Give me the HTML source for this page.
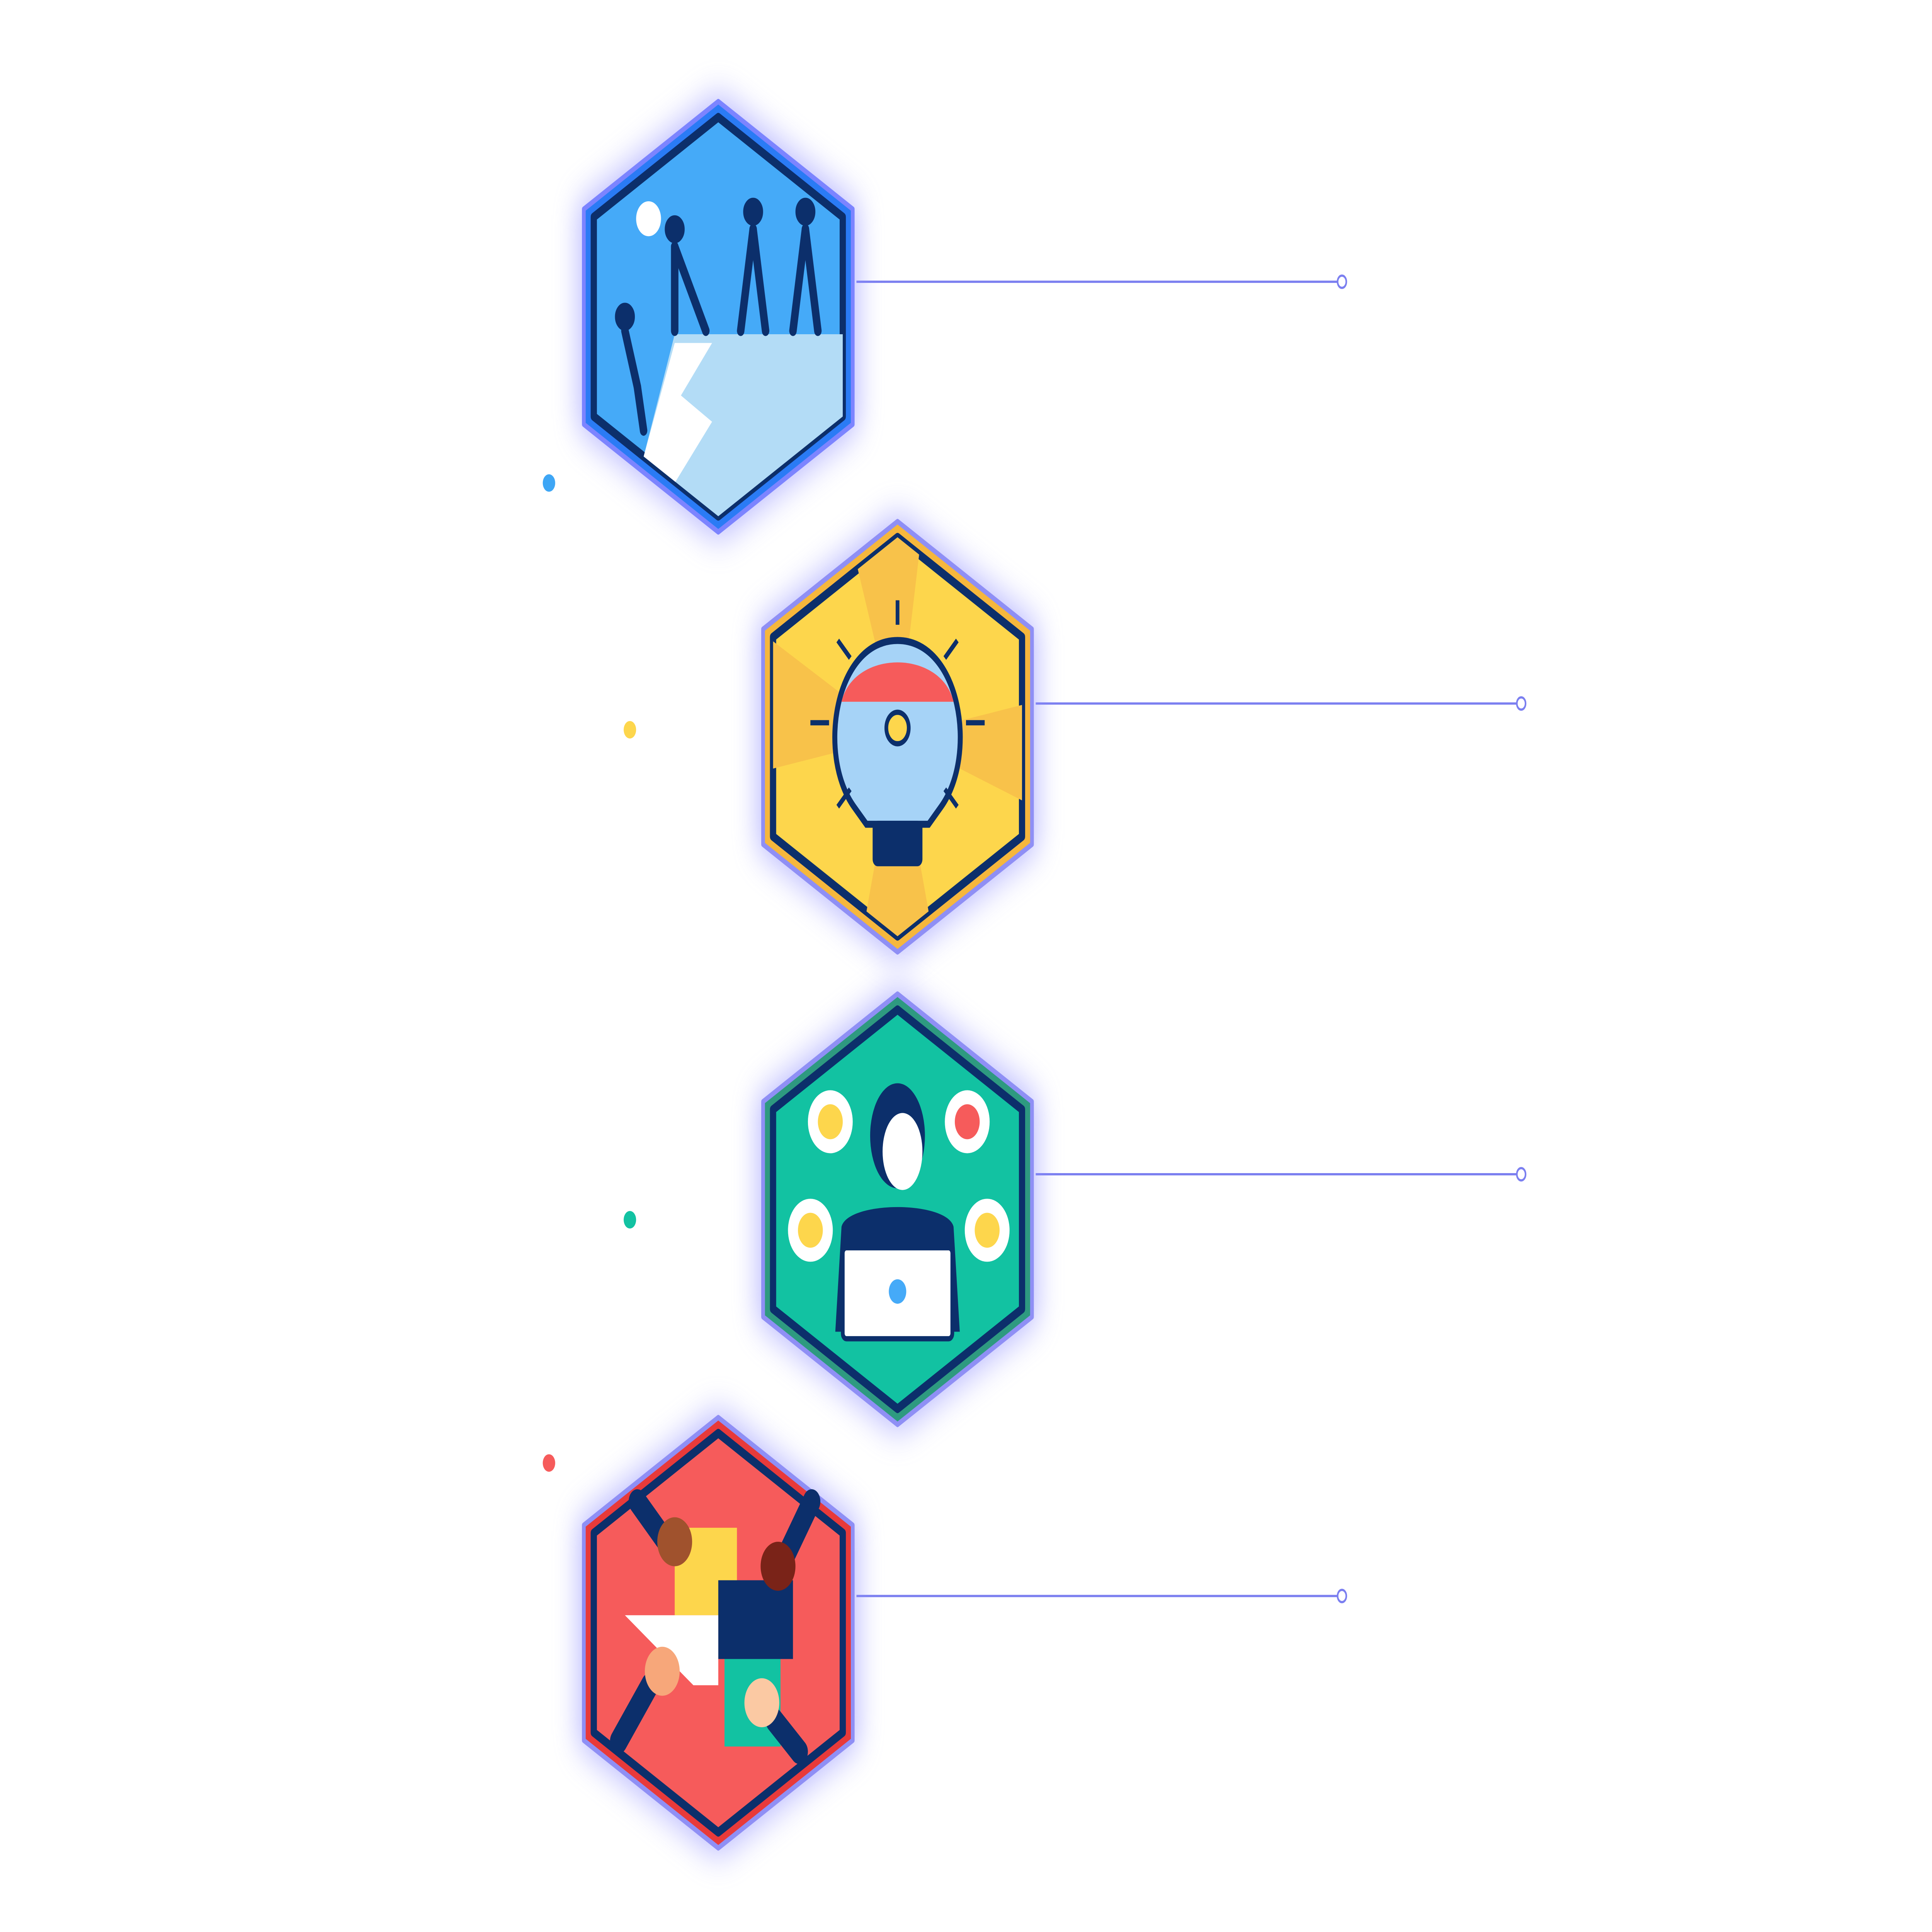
<!DOCTYPE html>
<html><head><meta charset="utf-8"><style>
html,body{margin:0;padding:0;background:#fff;width:100%;height:100%;overflow:hidden;}
svg{display:block;width:100vw;height:100vh;}
</style></head><body>
<svg viewBox="0 0 1552 1104" preserveAspectRatio="none" xmlns="http://www.w3.org/2000/svg">
<defs>
<filter id="glow" x="-40%" y="-40%" width="180%" height="180%"><feGaussianBlur stdDeviation="10"/></filter>
<clipPath id="hc"><polygon points="0,-114 100,-57 100,57 0,114 -100,57 -100,-57"/></clipPath>
</defs>
<rect width="1552" height="1104" fill="#fff"/>

<g stroke="#7b7ff0" stroke-width="1.3" fill="#fff">
<line x1="688" y1="161" x2="1075" y2="161"/><circle cx="1078" cy="161" r="3.5"/>
<line x1="832" y1="402" x2="1219" y2="402"/><circle cx="1222" cy="402" r="3.5"/>
<line x1="832" y1="671" x2="1219" y2="671"/><circle cx="1222" cy="671" r="3.5"/>
<line x1="688" y1="912" x2="1075" y2="912"/><circle cx="1078" cy="912" r="3.5"/>
</g>
<circle cx="441" cy="276" r="5" fill="#3ea6f5"/>
<circle cx="506" cy="417" r="5" fill="#fdd64c"/>
<circle cx="506" cy="697" r="5" fill="#12c2a2"/>
<circle cx="441" cy="836" r="5" fill="#f65b5b"/>

<!-- hex 1 -->
<g transform="translate(577,181)">
<polygon points="0,-128 112,-64 112,64 0,128 -112,64 -112,-64" fill="#8c8cff" opacity="0.6" filter="url(#glow)"/>
<polygon points="0,-123 108,-61.5 108,61.5 0,123 -108,61.5 -108,-61.5" fill="#2a7bf5" stroke="#7c84ff" stroke-width="3" stroke-linejoin="round"/>
<polygon points="0,-114 100,-57 100,57 0,114 -100,57 -100,-57" fill="#45aaf8" stroke="#0c2f6b" stroke-width="5" stroke-linejoin="round"/>
<g clip-path="url(#hc)">
<polygon points="-35,10 100,10 100,60 0,120 -60,80" fill="#b3dcf6"/>
<polygon points="-35,15 -5,15 -30,45 -5,60 -35,95 -60,80" fill="#fff"/>
</g>
<circle cx="-56" cy="-56" r="10" fill="#fff"/>
<g fill="#0c2f6b" stroke="#0c2f6b" stroke-width="6" stroke-linecap="round">
<circle cx="-75" cy="0" r="5"/><line x1="-75" y1="8" x2="-65" y2="40"/><line x1="-65" y1="40" x2="-60" y2="65"/>
<circle cx="-35" cy="-50" r="5"/><line x1="-35" y1="-40" x2="-10" y2="8"/><line x1="-35" y1="-40" x2="-35" y2="8"/>
<circle cx="28" cy="-60" r="5"/><line x1="28" y1="-50" x2="18" y2="8"/><line x1="28" y1="-50" x2="38" y2="8"/>
<circle cx="70" cy="-60" r="5"/><line x1="70" y1="-50" x2="60" y2="8"/><line x1="70" y1="-50" x2="80" y2="8"/>
</g>
</g>

<!-- hex 2 -->
<g transform="translate(721,421)">
<polygon points="0,-128 112,-64 112,64 0,128 -112,64 -112,-64" fill="#8c8cff" opacity="0.6" filter="url(#glow)"/>
<polygon points="0,-123 108,-61.5 108,61.5 0,123 -108,61.5 -108,-61.5" fill="#f6b73c" stroke="#8f8ff5" stroke-width="3" stroke-linejoin="round"/>
<polygon points="0,-114 100,-57 100,57 0,114 -100,57 -100,-57" fill="#fdd64c" stroke="#0c2f6b" stroke-width="5" stroke-linejoin="round"/>
<g clip-path="url(#hc)">
<polygon points="0,0 -110,-60 -110,20" fill="#f8c24a"/>
<polygon points="0,0 -40,-120 20,-120" fill="#f8c24a"/>
<polygon points="0,0 110,-20 110,40" fill="#f8c24a"/>
<polygon points="0,0 -30,120 30,120" fill="#f8c24a"/>
</g>
<path d="M-35,40 C-65,10 -50,-55 0,-55 C50,-55 65,10 35,40 L25,50 L-25,50 Z" fill="#a6d3f7" stroke="#0c2f6b" stroke-width="4"/>
<path d="M-45,-20 C-35,-50 35,-50 45,-20 Z" fill="#f65b5b"/>
<circle cx="0" cy="-5" r="9" fill="#fdd64c" stroke="#0c2f6b" stroke-width="3"/>
<rect x="-20" y="48" width="40" height="26" rx="4" fill="#0c2f6b"/>
<g stroke="#0c2f6b" stroke-width="3"><line x1="0" y1="-78" x2="0" y2="-64"/><line x1="-70" y1="-8" x2="-55" y2="-8"/><line x1="55" y1="-8" x2="70" y2="-8"/><line x1="-48" y1="-55" x2="-38" y2="-45"/><line x1="48" y1="-55" x2="38" y2="-45"/><line x1="-48" y1="40" x2="-38" y2="30"/><line x1="48" y1="40" x2="38" y2="30"/></g>
</g>

<!-- hex 3 -->
<g transform="translate(721,691)">
<polygon points="0,-128 112,-64 112,64 0,128 -112,64 -112,-64" fill="#8c8cff" opacity="0.6" filter="url(#glow)"/>
<polygon points="0,-123 108,-61.5 108,61.5 0,123 -108,61.5 -108,-61.5" fill="#2e9a80" stroke="#8f8ff5" stroke-width="3" stroke-linejoin="round"/>
<polygon points="0,-114 100,-57 100,57 0,114 -100,57 -100,-57" fill="#12c2a2" stroke="#0c2f6b" stroke-width="5" stroke-linejoin="round"/>
<circle cx="-54" cy="-50" r="18" fill="#fff"/><circle cx="-54" cy="-50" r="10" fill="#fdd64c"/>
<circle cx="56" cy="-50" r="18" fill="#fff"/><circle cx="56" cy="-50" r="10" fill="#f65b5b"/>
<circle cx="-70" cy="12" r="18" fill="#fff"/><circle cx="-70" cy="12" r="10" fill="#fdd64c"/>
<circle cx="72" cy="12" r="18" fill="#fff"/><circle cx="72" cy="12" r="10" fill="#fdd64c"/>
<path d="M-50,70 L-45,10 C-40,-5 40,-5 45,10 L50,70 Z" fill="#0c2f6b"/>
<ellipse cx="0" cy="-42" rx="22" ry="30" fill="#0c2f6b"/>
<ellipse cx="4" cy="-33" rx="16" ry="22" fill="#fff"/>
<rect x="-44" y="22" width="88" height="52" rx="3" fill="#fff" stroke="#0c2f6b" stroke-width="3"/>
<circle cx="0" cy="47" r="7" fill="#45aaf8"/>
</g>

<!-- hex 4 -->
<g transform="translate(577,933)">
<polygon points="0,-128 112,-64 112,64 0,128 -112,64 -112,-64" fill="#8c8cff" opacity="0.6" filter="url(#glow)"/>
<polygon points="0,-123 108,-61.5 108,61.5 0,123 -108,61.5 -108,-61.5" fill="#e83a3a" stroke="#8f8ff5" stroke-width="3" stroke-linejoin="round"/>
<polygon points="0,-114 100,-57 100,57 0,114 -100,57 -100,-57" fill="#f65b5b" stroke="#0c2f6b" stroke-width="5" stroke-linejoin="round"/>
<rect x="-35" y="-60" width="50" height="50" fill="#fdd64c"/>
<rect x="0" y="-30" width="60" height="45" fill="#0c2f6b"/>
<polygon points="-75,-10 0,-10 0,30 -20,30" fill="#fff"/>
<rect x="5" y="15" width="45" height="50" fill="#12c2a2"/>
<g stroke-linecap="round" stroke-width="14">
<line x1="-65" y1="-75" x2="-40" y2="-50" stroke="#0c2f6b"/><circle cx="-35" cy="-52" r="14" fill="#a0522d" stroke="none"/>
<line x1="75" y1="-75" x2="55" y2="-45" stroke="#0c2f6b"/><circle cx="48" cy="-38" r="14" fill="#7a2318" stroke="none"/>
<line x1="-80" y1="62" x2="-55" y2="30" stroke="#0c2f6b"/><circle cx="-45" cy="22" r="14" fill="#f7a77a" stroke="none"/>
<line x1="65" y1="68" x2="45" y2="50" stroke="#0c2f6b"/><circle cx="35" cy="40" r="14" fill="#fbc9a3" stroke="none"/>
</g>
</g>
</svg>
</body></html>
